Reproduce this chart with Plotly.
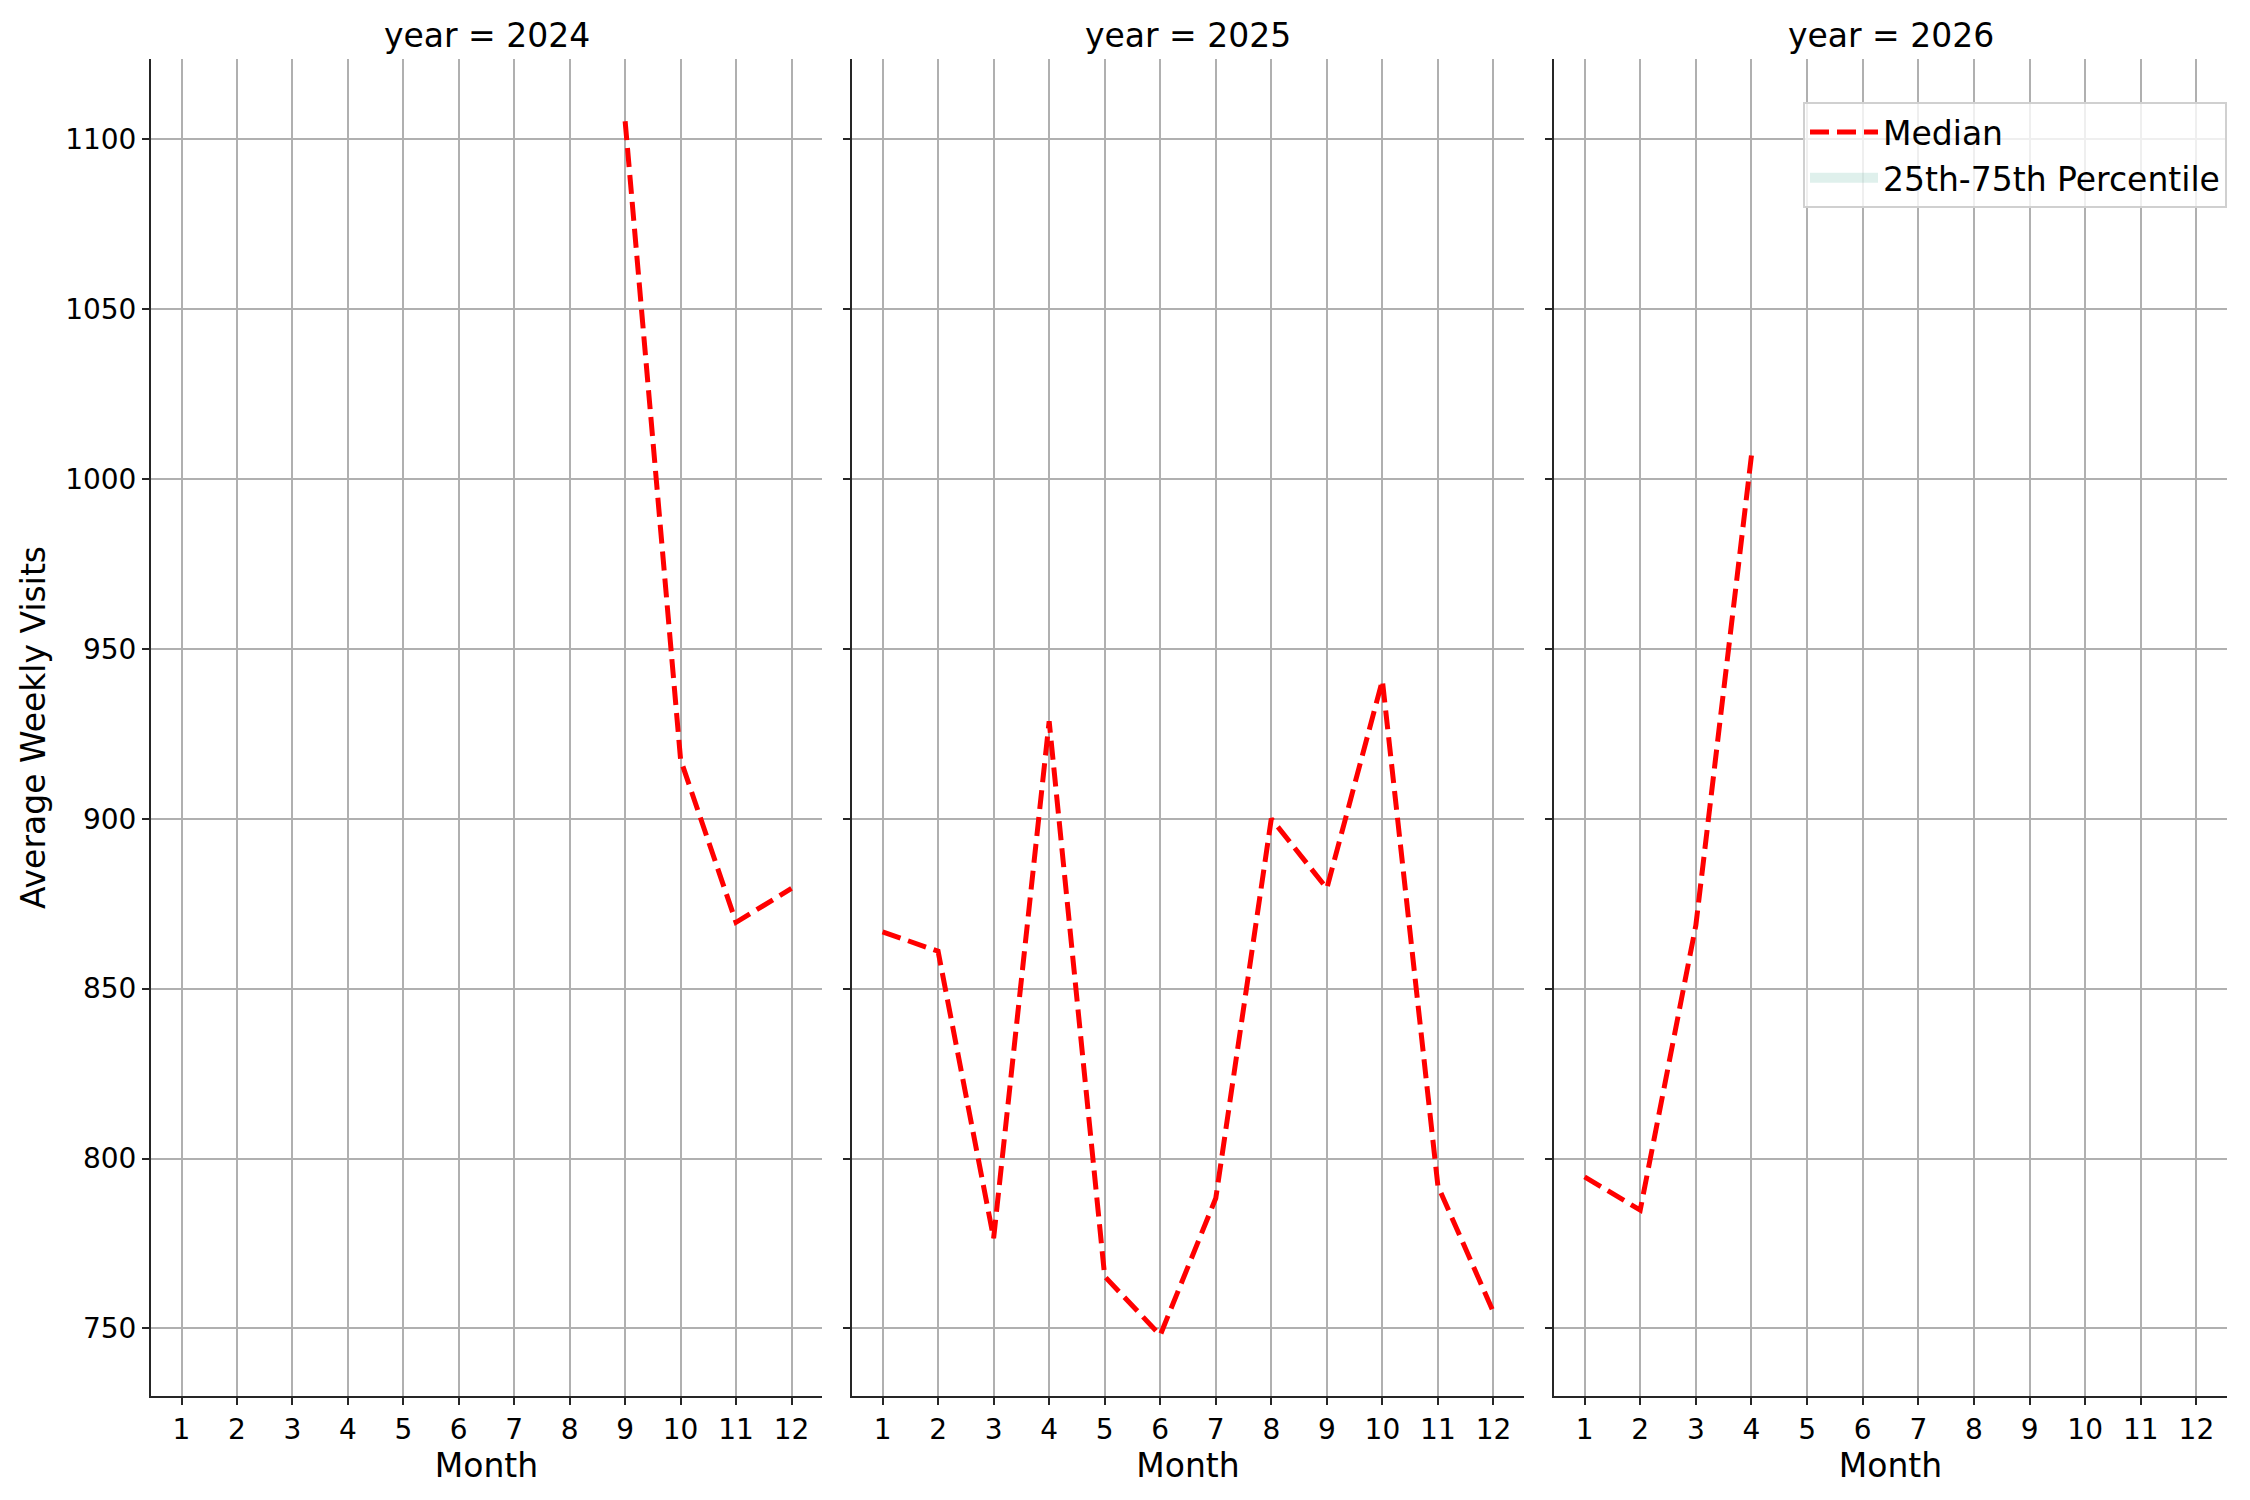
import plotly.graph_objects as go

# ---- data ----
years = [2024, 2025, 2026]
months_2024 = [9, 10, 11, 12]
median_2024 = [1105.3, 917.4, 869.5, 879.5]
months_2025 = [1, 2, 3, 4, 5, 6, 7, 8, 9, 10, 11, 12]
median_2025 = [866.7, 861.0, 776.5, 928.7, 765.3, 748.0, 788.3, 900.0, 879.5, 940.7, 791.9, 754.8]
months_2026 = [1, 2, 3, 4]
median_2026 = [794.6, 784.8, 868.6, 1006.9]
month_ticks = [1, 2, 3, 4, 5, 6, 7, 8, 9, 10, 11, 12]
month_labels = [str(m) for m in month_ticks]
y_ticks = [750, 800, 850, 900, 950, 1000, 1050, 1100]

series = [
    (months_2024, median_2024),
    (months_2025, median_2025),
    (months_2026, median_2026),
]

FONT = "DejaVu Sans"
W, H = 2250, 1500
OFF = 8  # page body margin
L, R, T, B = 151 - OFF, 23 + OFF, 59 - OFF, 104 + OFF
plot_w = W - L - R
x0 = 151
domains = [
    [0.0, (822 - x0) / plot_w],
    [(852 - x0) / plot_w, (1524 - x0) / plot_w],
    [(1554 - x0) / plot_w, 1.0],
]

fig = go.Figure()

for i, (mx, my) in enumerate(series):
    sfx = "" if i == 0 else str(i + 1)
    fig.add_trace(go.Scatter(
        x=mx, y=my, mode="lines",
        line=dict(color="#ff0000", width=5, dash="19px,8px"),
        name="Median", legendgroup="median", showlegend=(i == 0),
        xaxis="x" + sfx, yaxis="y" + sfx,
    ))

# legend-only entry for the (empty) percentile band
fig.add_trace(go.Scatter(
    x=[None], y=[None], mode="lines",
    line=dict(width=22, color="rgba(95,180,160,0.2)"),
    name="25th-75th Percentile", showlegend=True,
))

axis_common = dict(
    showline=True, linecolor="#262626", linewidth=2, mirror=False,
    ticks="outside", ticklen=7, tickwidth=2, tickcolor="#262626",
    showgrid=True, gridcolor="#b0b0b0", gridwidth=1.7, zeroline=False,
    tickfont=dict(family=FONT, size=28, color="#000000"),
)

layout = dict(
    width=W, height=H,
    margin=dict(l=L, r=R, t=T, b=B, pad=0),
    paper_bgcolor="white", plot_bgcolor="white",
    font=dict(family=FONT, color="#000000"),
    legend=dict(
        x=1.0, xanchor="right", y=1 - (102 - 59) / (H - T - B), yanchor="top",
        bgcolor="rgba(255,255,255,0.8)", bordercolor="#d0d0d0", borderwidth=2,
        font=dict(family=FONT, size=33, color="#000000"),
        itemwidth=68, tracegroupgap=0,
    ),
    annotations=[],
)

for i, yr in enumerate(years):
    sfx = "" if i == 0 else str(i + 1)
    layout["xaxis" + sfx] = dict(
        axis_common, domain=domains[i], anchor="y" + sfx,
        range=[0.45, 12.55], tickmode="array", tickvals=month_ticks, ticktext=month_labels,
        title=dict(text="Month", font=dict(family=FONT, size=33, color="#000000"), standoff=2),
    )
    ydict = dict(
        axis_common, domain=[0, 1], anchor="x" + sfx,
        range=[730.1, 1123.6], tickmode="array", tickvals=y_ticks,
        showticklabels=(i == 0),
    )
    if i == 0:
        ydict["title"] = dict(text="Average Weekly Visits",
                              font=dict(family=FONT, size=33, color="#000000"), standoff=10)
    else:
        ydict["matches"] = "y"
    layout["yaxis" + sfx] = ydict
    layout["annotations"].append(dict(
        text=f"year = {yr}", xref="paper", yref="paper",
        x=(domains[i][0] + domains[i][1]) / 2, y=1 + (59 - 35) / (H - T - B),
        xanchor="center", yanchor="middle", showarrow=False,
        font=dict(family=FONT, size=33, color="#000000"),
    ))

fig.update_layout(**layout)
fig.write_html("out.html")
